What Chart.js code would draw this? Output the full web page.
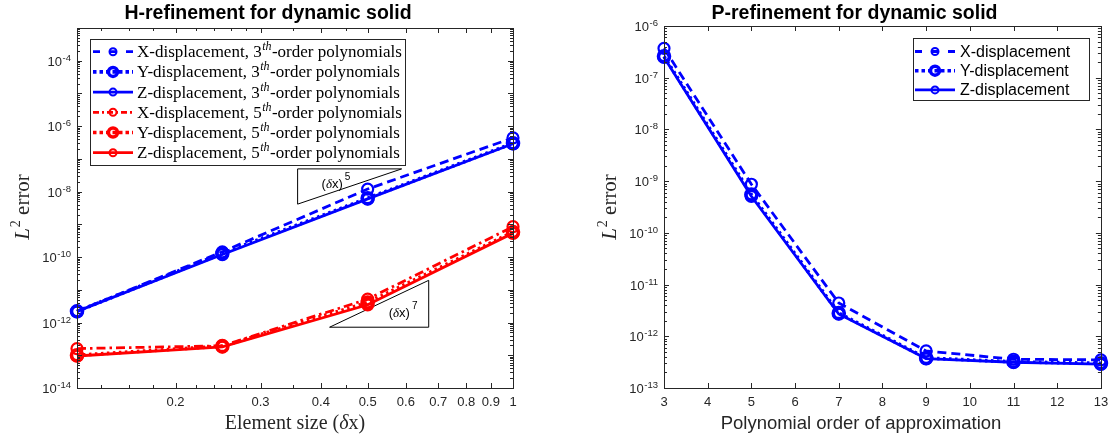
<!DOCTYPE html>
<html lang="en">
<head>
<meta charset="utf-8">
<title>H- and P-refinement for dynamic solid</title>
<script src="https://cdn.jsdelivr.net/npm/chart.js@4.4.1/dist/chart.umd.min.js"></script>
<style>
html, body { margin: 0; padding: 0; background: #fff; }
#wrap { position: relative; width: 1110px; height: 444px; overflow: hidden; }
canvas { position: absolute; top: 0; }
#hChart { left: 0; }
#pChart { left: 555px; }
</style>
</head>
<body>
<div id="wrap">
  <canvas id="hChart" width="555" height="444"></canvas>
  <canvas id="pChart" width="555" height="444"></canvas>
</div>
<script>
// ---------- data: h-refinement (error vs element size) ----------
const elementSizes = [0.125, 0.25, 0.5, 1];
const hErrX3 = [2.2e-12, 1.45e-10, 1.2e-8, 4.4e-7];
const hErrY3 = [2.2e-12, 1.3e-10, 6.3e-9, 3.0e-7];
const hErrZ3 = [2.2e-12, 1.2e-10, 6.0e-9, 2.9e-7];
const hErrX5 = [1.6e-13, 1.95e-13, 5.2e-12, 8.5e-10];
const hErrY5 = [1.0e-13, 1.9e-13, 4.1e-12, 5.8e-10];
const hErrZ5 = [9.5e-14, 1.8e-13, 3.5e-12, 5.4e-10];

// reference slope triangles: [x start, x end], [y low, y high]
const slope5X = [0.358, 0.588];
const slope5Y = [4.15e-9, 4.95e-8];
const slope7X = [0.417, 0.669];
const slope7Y = [7.2e-13, 1.95e-11];

// ---------- data: p-refinement (error vs polynomial order) ----------
const polyOrders = [3, 5, 7, 9, 11, 13];
const pErrX = [3.7e-7, 8.7e-10, 4.4e-12, 5.2e-13, 3.6e-13, 3.5e-13];
const pErrY = [2.6e-7, 5.5e-10, 2.8e-12, 3.8e-13, 3.2e-13, 3.0e-13];
const pErrZ = [2.5e-7, 5.1e-10, 2.7e-12, 3.7e-13, 3.15e-13, 2.9e-13];

// ---------- tick labels ----------
const hXTickValues = [0.2, 0.3, 0.4, 0.5, 0.6, 0.7, 0.8, 0.9, 1];
const hXTickLabels = ['0.2', '0.3', '0.4', '0.5', '0.6', '0.7', '0.8', '0.9', '1'];
const hXMinorTicks = [0.14, 0.16, 0.18, 0.22, 0.24, 0.26, 0.28, 0.35, 0.45];
const hYLabelExponents = [-14, -12, -10, -8, -6, -4];
const pXTickValues = [3, 4, 5, 6, 7, 8, 9, 10, 11, 12, 13];
const pYLabelExponents = [-13, -12, -11, -10, -9, -8, -7, -6];

const componentNames = ['X-displacement', 'Y-displacement', 'Z-displacement'];
const orderNames = ['3', '5'];

// ---------- styling ----------
const INK = '#262626';
const SANS = '"Liberation Sans", Arimo, Helvetica, Arial, sans-serif';
const SERIF = '"Liberation Serif", "Times New Roman", serif';
const BLUE = '#0000ff';
const RED = '#ff0000';

const LINE_STYLES = {
  dash:    { dash: [9, 5],          width: 2.8, r: 5.5, mw: 2.2, lgDash: [7, 9.5],     lgR: 3.5, lgMw: 2 },
  dot:     { dash: [2.5, 3.5],      width: 3.6, r: 5.5, mw: 3.6, lgDash: [3.5, 3],     lgR: 4.5, lgMw: 3.5 },
  solid:   { dash: [],              width: 2.8, r: 5.5, mw: 2.6, lgDash: [],           lgR: 3.5, lgMw: 2 },
  dashdot: { dash: [9, 4, 2.5, 4],  width: 2.8, r: 5.5, mw: 2.2, lgDash: [6, 3, 2, 3], lgR: 3.5, lgMw: 2 }
};

function toPoints(xs, ys) { return xs.map((x, i) => ({ x: x, y: ys[i] })); }

function series(label, xs, ys, color, styleName, order) {
  const s = LINE_STYLES[styleName];
  return {
    label: label,
    data: toPoints(xs, ys),
    borderColor: color,
    borderWidth: s.width,
    borderDash: s.dash,
    borderCapStyle: 'butt',
    pointRadius: s.r,
    pointHoverRadius: s.r,
    pointBorderWidth: s.mw,
    pointBorderColor: color,
    pointBackgroundColor: 'rgba(0,0,0,0)',
    fill: false,
    tension: 0,
    clip: false,
    order: order
  };
}

function triangle(points, order) {
  return {
    label: 'slope',
    data: points,
    borderColor: '#000',
    borderWidth: 1,
    pointRadius: 0,
    fill: false,
    tension: 0,
    clip: false,
    order: order
  };
}

// ---------- text helpers ----------
function runsWidth(ctx, runs) {
  let w = 0;
  for (const r of runs) { ctx.font = r.font; w += ctx.measureText(r.t).width + (r.gap || 0); }
  return w;
}
function drawRuns(ctx, runs, x, y, align) {
  const w = runsWidth(ctx, runs);
  let cx = align === 'right' ? x - w : align === 'center' ? x - w / 2 : x;
  ctx.textAlign = 'left';
  ctx.textBaseline = 'alphabetic';
  for (const r of runs) {
    cx += (r.gap || 0);
    ctx.font = r.font;
    ctx.fillStyle = r.color || INK;
    ctx.fillText(r.t, cx, y + (r.dy || 0));
    cx += ctx.measureText(r.t).width;
  }
}
function powerLabel(exp) {
  return [
    { t: '10', font: '13px ' + SANS },
    { t: String(exp), font: '9.5px ' + SANS, dy: -5, gap: 0.5 }
  ];
}
function logTicks(minExp, maxExp) {
  const ticks = [];
  for (let e = minExp; e <= maxExp; e++) {
    const base = Number('1e' + e);
    ticks.push({ v: base, len: 5 });
    if (e < maxExp) for (let k = 2; k <= 9; k++) ticks.push({ v: k * base, len: 3 });
  }
  return ticks;
}

function legendSample(ctx, x0, x1, y, color, styleName) {
  const s = LINE_STYLES[styleName];
  ctx.save();
  ctx.strokeStyle = color;
  ctx.lineWidth = s.width;
  ctx.lineCap = 'butt';
  ctx.setLineDash(s.lgDash);
  ctx.beginPath(); ctx.moveTo(x0, y); ctx.lineTo(x1, y); ctx.stroke();
  ctx.setLineDash([]);
  ctx.lineWidth = s.lgMw;
  ctx.beginPath(); ctx.arc((x0 + x1) / 2, y, s.lgR, 0, Math.PI * 2); ctx.stroke();
  ctx.restore();
}

// Axes frame, inward ticks, labels, title and legend for one panel
function framePlugin(spec) {
  return {
    id: 'frame_' + spec.name,
    afterDraw(chart) {
      const ctx = chart.ctx;
      const a = chart.chartArea;
      const xs = chart.scales.x, ys = chart.scales.y;
      ctx.save();

      // box and ticks
      ctx.strokeStyle = INK;
      ctx.lineWidth = 1;
      ctx.setLineDash([]);
      ctx.beginPath();
      for (const t of spec.xTicks) {
        const px = Math.round(xs.getPixelForValue(t.v)) + 0.5;
        ctx.moveTo(px, a.bottom); ctx.lineTo(px, a.bottom - t.len);
        ctx.moveTo(px, a.top); ctx.lineTo(px, a.top + t.len);
      }
      for (const t of spec.yTicks) {
        const py = Math.round(ys.getPixelForValue(t.v)) + 0.5;
        ctx.moveTo(a.left, py); ctx.lineTo(a.left + t.len, py);
        ctx.moveTo(a.right, py); ctx.lineTo(a.right - t.len, py);
      }
      ctx.stroke();
      ctx.strokeRect(Math.round(a.left) + 0.5, Math.round(a.top) + 0.5,
                     Math.round(a.right - a.left), Math.round(a.bottom - a.top));

      // x tick labels
      ctx.fillStyle = INK;
      ctx.font = '13px ' + SANS;
      ctx.textAlign = 'center';
      ctx.textBaseline = 'alphabetic';
      spec.xLabels.forEach((lab, i) => {
        ctx.fillText(lab, xs.getPixelForValue(spec.xLabelValues[i]), a.bottom + 18);
      });
      // y tick labels (powers of ten)
      for (const e of spec.yExponents) {
        drawRuns(ctx, powerLabel(e), a.left - 6, ys.getPixelForValue(Number('1e' + e)) + 5, 'right');
      }

      // title
      ctx.fillStyle = '#000';
      ctx.font = 'bold 19.5px ' + SANS;
      ctx.textAlign = 'center';
      ctx.fillText(spec.title, spec.titleX, 19);

      // x-axis label
      drawRuns(ctx, spec.xTitleRuns, spec.xTitleX, 429, 'center');

      // y-axis label (rotated)
      ctx.save();
      ctx.translate(spec.yTitleX, 207);
      ctx.rotate(-Math.PI / 2);
      drawRuns(ctx, [
        { t: 'L', font: 'italic 21px ' + SERIF, color: INK },
        { t: '2', font: '14px ' + SERIF, dy: -9, gap: 1, color: INK },
        { t: ' error', font: '21px ' + SERIF, color: INK }
      ], 0, 0, 'center');
      ctx.restore();

      if (spec.extra) spec.extra(chart, ctx);

      // legend
      const L = spec.legend;
      ctx.fillStyle = '#fff';
      ctx.fillRect(L.x, L.y, L.w, L.h);
      ctx.strokeStyle = INK;
      ctx.lineWidth = 1;
      ctx.strokeRect(L.x + 0.5, L.y + 0.5, L.w, L.h);
      L.rows.forEach((row, i) => {
        const cy = L.y + L.first + L.step * i;
        legendSample(ctx, L.x + L.lineFrom, L.x + L.lineTo, cy, row.color, row.style);
        drawRuns(ctx, row.runs, L.x + L.textAt, cy + L.baseShift, 'left');
      });

      ctx.restore();
    }
  };
}

function hLegendRuns(name, ord) {
  const f = '17px ' + SERIF;
  return [
    { t: name + ', ' + ord, font: f, color: '#000' },
    { t: 'th', font: 'italic 12px ' + SERIF, dy: -7, gap: 0.5, color: '#000' },
    { t: '-order polynomials', font: f, gap: 0.5, color: '#000' }
  ];
}

// ---------- left panel: h-refinement ----------
const hDatasets = [
  series('X-displacement, 3th', elementSizes, hErrX3, BLUE, 'dash', 7),
  series('Y-displacement, 3th', elementSizes, hErrY3, BLUE, 'dot', 6),
  series('Z-displacement, 3th', elementSizes, hErrZ3, BLUE, 'solid', 5),
  series('X-displacement, 5th', elementSizes, hErrX5, RED, 'dashdot', 4),
  series('Y-displacement, 5th', elementSizes, hErrY5, RED, 'dot', 3),
  series('Z-displacement, 5th', elementSizes, hErrZ5, RED, 'solid', 2),
  triangle([
    { x: slope5X[0], y: slope5Y[1] }, { x: slope5X[1], y: slope5Y[1] },
    { x: slope5X[0], y: slope5Y[0] }, { x: slope5X[0], y: slope5Y[1] }
  ], 9),
  triangle([
    { x: slope7X[0], y: slope7Y[0] }, { x: slope7X[1], y: slope7Y[0] },
    { x: slope7X[1], y: slope7Y[1] }, { x: slope7X[0], y: slope7Y[0] }
  ], 9)
];

function slopeLabel(ctx, x, y, power) {
  drawRuns(ctx, [
    { t: '(', font: '13px ' + SANS, color: '#000' },
    { t: 'δ', font: 'italic 13px ' + SERIF, color: '#000' },
    { t: 'x)', font: '13px ' + SANS, color: '#000' },
    { t: power, font: '10px ' + SANS, dy: -8, gap: 2, color: '#000' }
  ], x, y, 'left');
}

const hLegendRows = [];
orderNames.forEach((ord, oi) => {
  componentNames.forEach((name, ci) => {
    hLegendRows.push({ color: oi === 0 ? BLUE : RED,
                       style: oi === 0 ? ['dash', 'dot', 'solid'][ci] : ['dashdot', 'dot', 'solid'][ci],
                       runs: hLegendRuns(name, ord) });
  });
});

new Chart(document.getElementById('hChart'), {
  type: 'line',
  data: { datasets: hDatasets },
  options: {
    responsive: false,
    animation: false,
    devicePixelRatio: 1,
    events: [],
    layout: { padding: { left: 77, right: 42, top: 28, bottom: 56 } },
    plugins: { legend: { display: false }, tooltip: { enabled: false } },
    scales: {
      x: { type: 'logarithmic', min: 0.125, max: 1, display: false },
      y: { type: 'logarithmic', min: 1e-14, max: 1e-3, display: false }
    }
  },
  plugins: [framePlugin({
    name: 'h',
    title: 'H-refinement for dynamic solid',
    titleX: 268,
    xTicks: hXTickValues.map(v => ({ v: v, len: 5 })).concat(hXMinorTicks.map(v => ({ v: v, len: 3 }))),
    yTicks: logTicks(-14, -3),
    xLabels: hXTickLabels,
    xLabelValues: hXTickValues,
    yExponents: hYLabelExponents,
    xTitleRuns: [
      { t: 'Element size (', font: '20px ' + SERIF },
      { t: 'δ', font: 'italic 20px ' + SERIF },
      { t: 'x)', font: '20px ' + SERIF }
    ],
    xTitleX: 295,
    yTitleX: 29,
    legend: { x: 90, y: 39, w: 315, h: 126, first: 12.7, step: 20.2,
              lineFrom: 3, lineTo: 43, textAt: 47, baseShift: 5.5, rows: hLegendRows },
    extra(chart, ctx) {
      const xs = chart.scales.x, ys = chart.scales.y;
      slopeLabel(ctx, xs.getPixelForValue(slope5X[0]) + 24, ys.getPixelForValue(slope5Y[1]) + 19.5, '5');
      slopeLabel(ctx, xs.getPixelForValue(slope7X[1]) - 40, ys.getPixelForValue(slope7Y[0]) - 10, '7');
    }
  })]
});

// ---------- right panel: p-refinement ----------
const pLegendRows = componentNames.map((name, ci) => ({
  color: BLUE,
  style: ['dash', 'dot', 'solid'][ci],
  runs: [{ t: name, font: '16px ' + SANS, color: '#000' }]
}));

new Chart(document.getElementById('pChart'), {
  type: 'line',
  data: { datasets: [
    series('X-displacement', polyOrders, pErrX, BLUE, 'dash', 3),
    series('Y-displacement', polyOrders, pErrY, BLUE, 'dot', 2),
    series('Z-displacement', polyOrders, pErrZ, BLUE, 'solid', 1)
  ] },
  options: {
    responsive: false,
    animation: false,
    devicePixelRatio: 1,
    events: [],
    layout: { padding: { left: 109, right: 8, top: 26, bottom: 56 } },
    plugins: { legend: { display: false }, tooltip: { enabled: false } },
    scales: {
      x: { type: 'linear', min: 3, max: 13, display: false },
      y: { type: 'logarithmic', min: 1e-13, max: 1e-6, display: false }
    }
  },
  plugins: [framePlugin({
    name: 'p',
    title: 'P-refinement for dynamic solid',
    titleX: 299.5,
    xTicks: pXTickValues.map(v => ({ v: v, len: 5 })),
    yTicks: logTicks(-13, -6),
    xLabels: pXTickValues.map(String),
    xLabelValues: pXTickValues,
    yExponents: pYLabelExponents,
    xTitleRuns: [{ t: 'Polynomial order of approximation', font: '18.5px ' + SANS }],
    xTitleX: 306,
    yTitleX: 61,
    legend: { x: 358, y: 38, w: 176, h: 62, first: 13.5, step: 19.2,
              lineFrom: 2, lineTo: 42, textAt: 47, baseShift: 5.5, rows: pLegendRows }
  })]
});
</script>
</body>
</html>
